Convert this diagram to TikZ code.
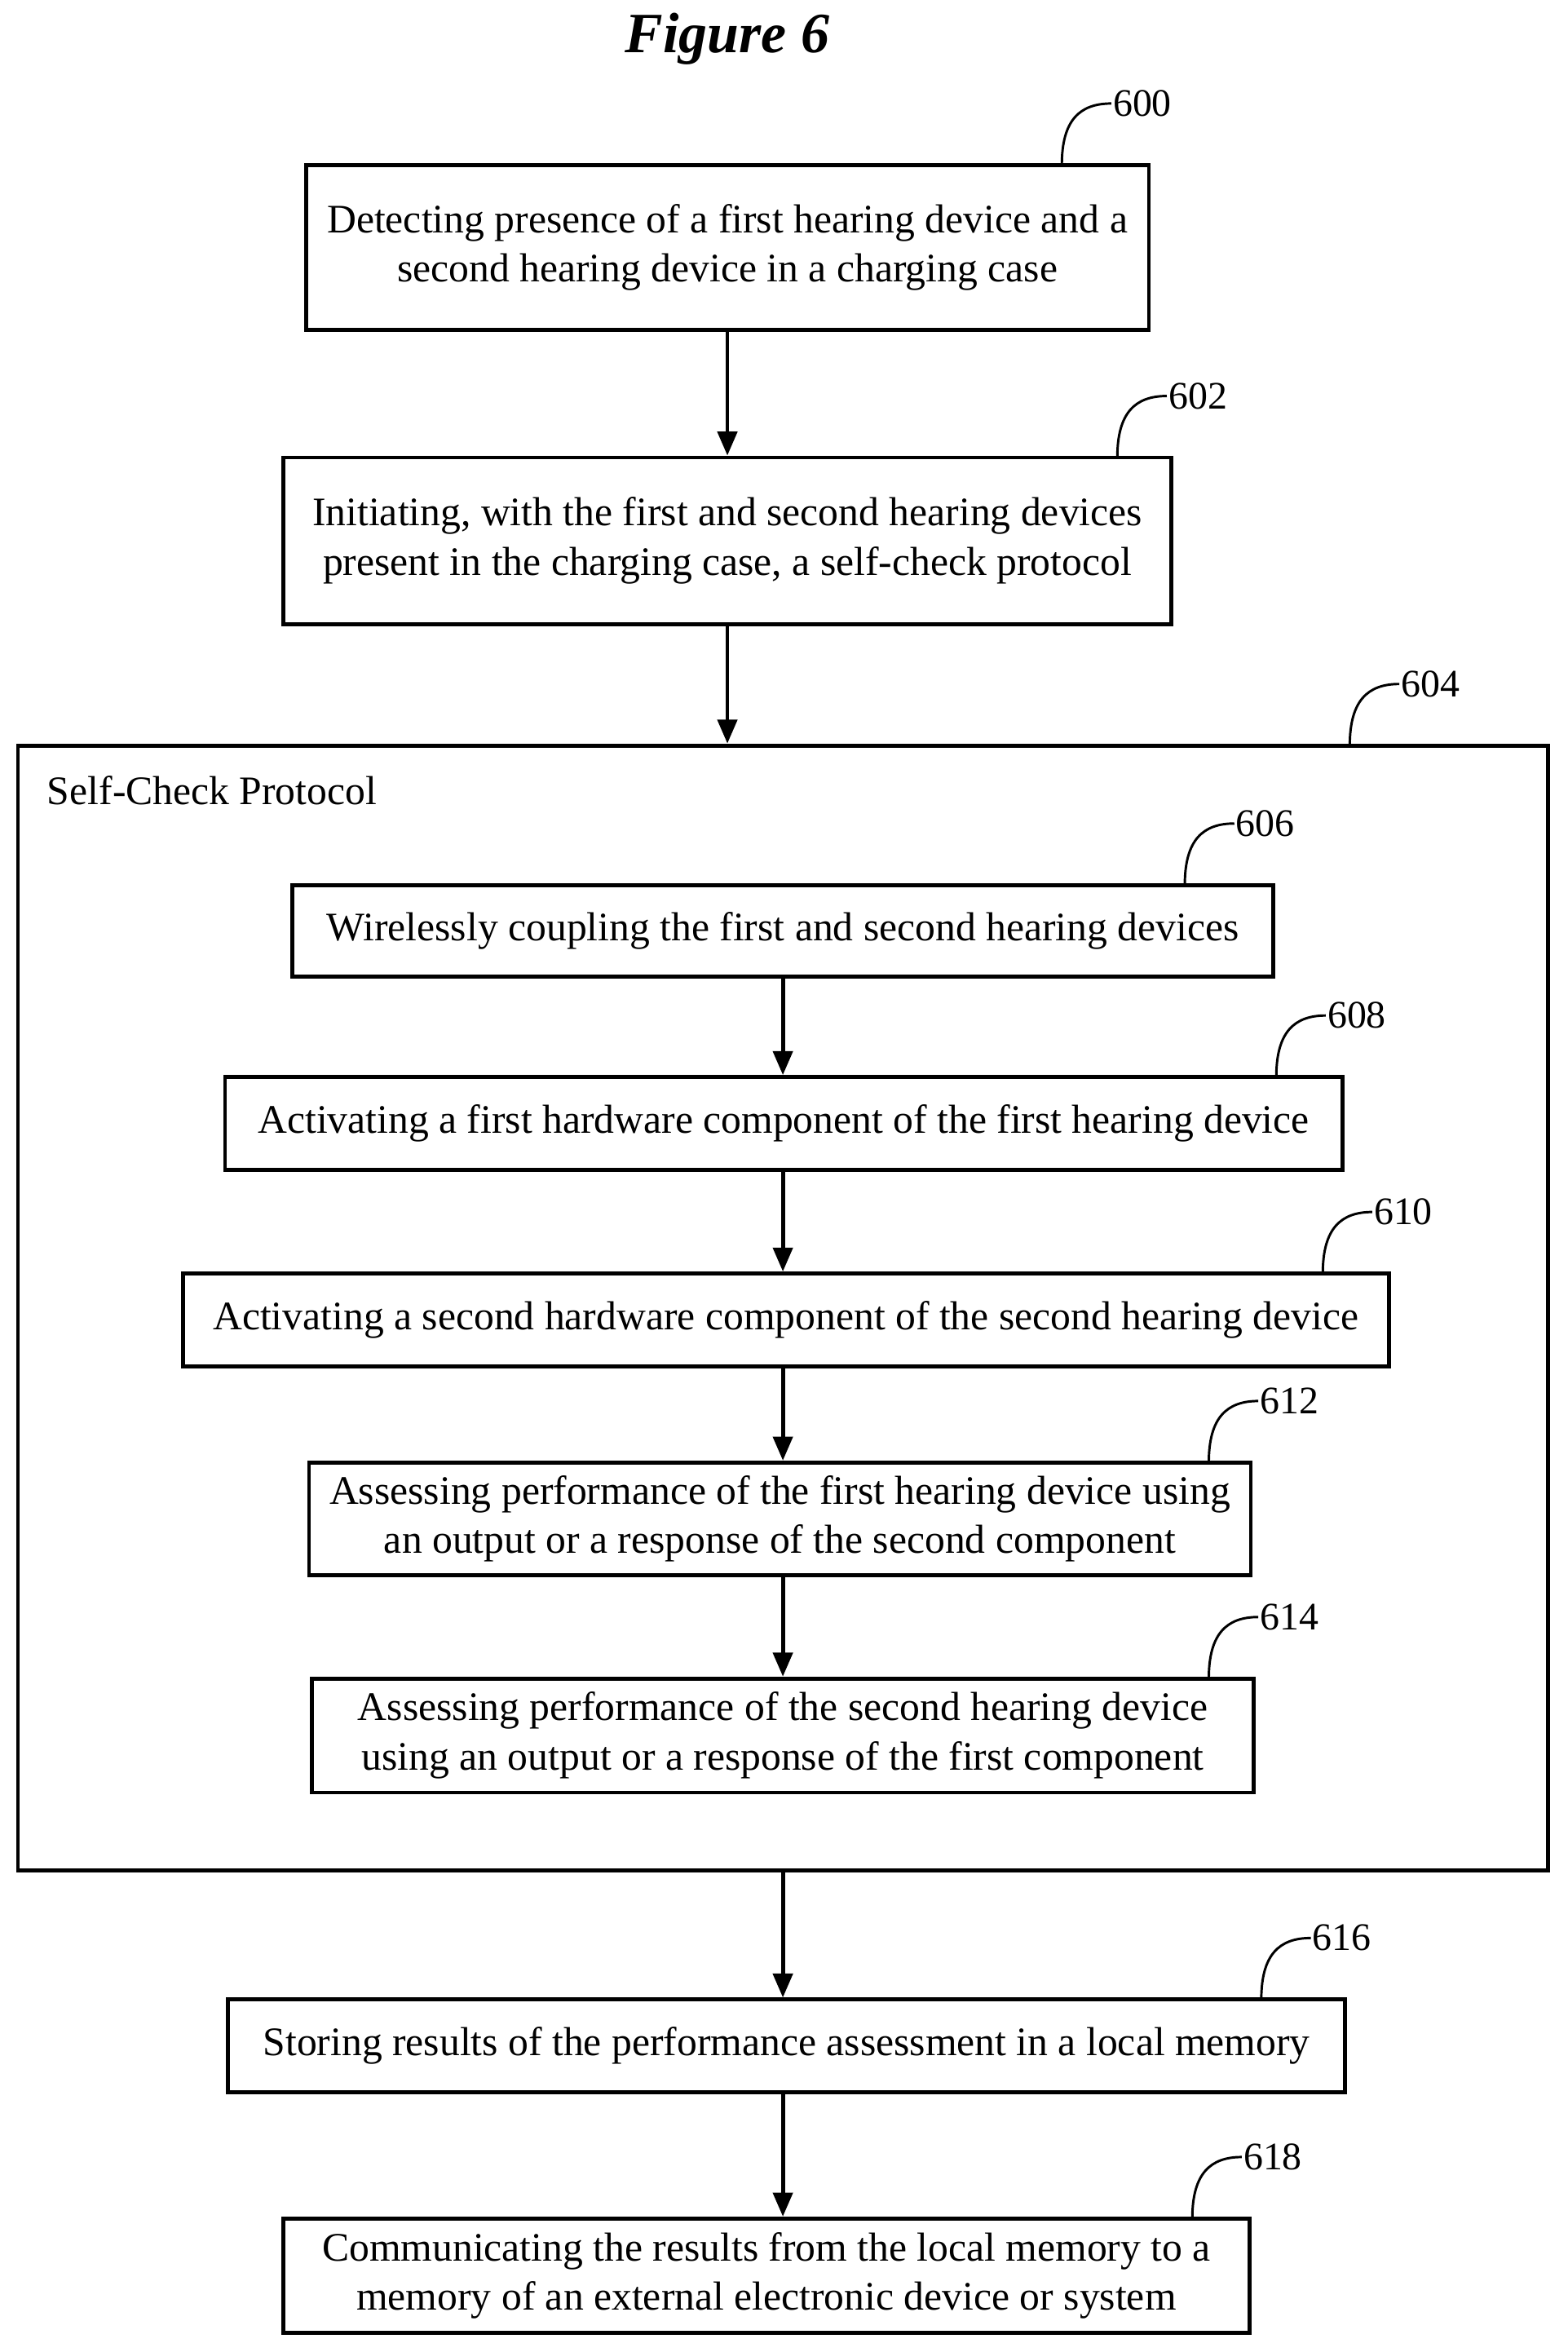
\documentclass[tikz,border=0pt]{standalone}
\usepackage{fontspec}
\setmainfont{Liberation Serif}
\usetikzlibrary{arrows.meta}
\begin{document}
\begin{tikzpicture}[x=1pt,y=-1pt,
  box/.style={draw,line width=2.6pt,align=center,inner sep=0pt},
  txt/.style={font=\fontsize{27}{33}\selectfont},
  arr/.style={line width=2.6pt,-{Triangle[length=16pt,width=13pt]}},
  lead/.style={line width=1.6pt},
  num/.style={font=\fontsize{26}{30}\selectfont,anchor=west,inner sep=1pt}]
\useasboundingbox (0,0) rectangle (1045,1568);
\node[font=\fontsize{38}{44}\selectfont\bfseries\itshape] (title) at (485,26) {Figure 6};
\newcommand\bx[6]{%
  \node[box,minimum width=#3-#2,minimum height=#5-#4] (#1) at ({(#2+#3)/2},{(#4+#5)/2}) {};
  \node[txt,align=center] (#1t) at (#1) {#6};}
\bx{b600}{204}{766}{110}{220}{Detecting presence of a first hearing device and a\\second hearing device in a charging case}
\bx{b602}{189}{781}{305}{416}{Initiating, with the first and second hearing devices\\present in the charging case, a self-check protocol}
\node[box,minimum width=1020,minimum height=750] (b604) at (522,872) {};
\node[txt,anchor=west] (sc) at (28,527) {Self-Check Protocol};
\bx{b606}{195}{849}{590}{651}{Wirelessly coupling the first and second hearing devices}
\bx{b608}{150}{895}{718}{780}{Activating a first hardware component of the first hearing device}
\bx{b610}{122}{926}{849}{911}{Activating a second hardware component of the second hearing device}
\bx{b612}{206}{834}{975}{1050}{Assessing performance of the first hearing device using\\an output or a response of the second component}
\bx{b614}{208}{836}{1119}{1195}{Assessing performance of the second hearing device\\using an output or a response of the first component}
\bx{b616}{152}{897}{1333}{1395}{Storing results of the performance assessment in a local memory}
\bx{b618}{189}{833}{1479}{1555}{Communicating the results from the local memory to a\\memory of an external electronic device or system}
\draw[arr] (b600.south) -- (b602.north);
\draw[arr] (b602.south) -- (b602.south |- b604.north);
\draw[arr] (b606.south -| 522,0) -- (b608.north -| 522,0);
\draw[arr] (b608.south -| 522,0) -- (b610.north -| 522,0);
\draw[arr] (b610.south -| 522,0) -- (b612.north -| 522,0);
\draw[arr] (b612.south -| 522,0) -- (b614.north -| 522,0);
\draw[arr] (b604.south -| 522,0) -- (b616.north -| 522,0);
\draw[arr] (b616.south -| 522,0) -- (b618.north -| 522,0);
\newcommand\lbl[4]{%
  \coordinate (#1s) at (#2,#3);
  \node[num] (#1n) at (#2+33,#3-41) {#4};
  \draw[lead] (#1s) .. controls (#2,#3-30) and (#2+12,#3-41) .. (#1n.west);}
\lbl{l600}{708}{110}{600}
\lbl{l602}{745}{305}{602}
\lbl{l604}{900}{497}{604}
\lbl{l606}{790}{590}{606}
\lbl{l608}{851}{718}{608}
\lbl{l610}{882}{849}{610}
\lbl{l612}{806}{975}{612}
\lbl{l614}{806}{1119}{614}
\lbl{l616}{841}{1333}{616}
\lbl{l618}{795}{1479}{618}
\end{tikzpicture}
\end{document}
